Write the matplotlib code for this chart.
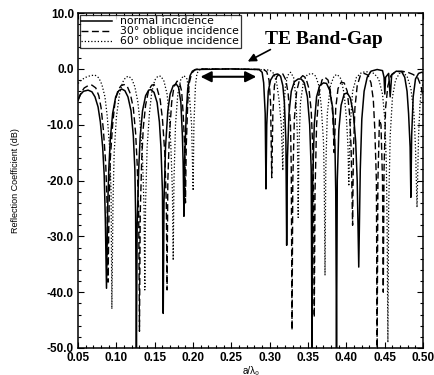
import numpy as np
import matplotlib
matplotlib.use("Agg")
import matplotlib.pyplot as plt
from matplotlib.ticker import MultipleLocator, FormatStrFormatter

# ---- data: (a/lambda0, reflection dB) ----
normal_x = [0.050, 0.053, 0.057, 0.063, 0.068, 0.072, 0.076, 0.079, 0.082, 0.084, 0.0855, 0.087,
            0.0885, 0.090, 0.092, 0.095, 0.099, 0.103, 0.107, 0.111, 0.115, 0.119, 0.122, 0.124, 0.125, 0.126,
            0.127, 0.129, 0.131, 0.134, 0.138, 0.142, 0.145, 0.149, 0.153, 0.156, 0.158, 0.160, 0.161,
            0.162, 0.164, 0.167, 0.170, 0.174, 0.178, 0.181, 0.184, 0.186, 0.187, 0.188,
            0.189, 0.191, 0.193, 0.196, 0.199, 0.203, 0.250, 0.286, 0.290, 0.292, 0.294, 0.295,
            0.296, 0.298, 0.301, 0.305, 0.310, 0.314, 0.317, 0.319, 0.321, 0.322,
            0.323, 0.325, 0.328, 0.332, 0.337, 0.341, 0.345, 0.349, 0.352, 0.354, 0.355,
            0.356, 0.358, 0.361, 0.365, 0.370, 0.374, 0.378, 0.382, 0.385, 0.386, 0.387,
            0.388, 0.390, 0.393, 0.397, 0.401, 0.405, 0.409, 0.412, 0.414, 0.416,
            0.418, 0.420, 0.423, 0.427, 0.432, 0.440, 0.447, 0.449, 0.450, 0.451, 0.455, 0.457, 0.459,
            0.465, 0.472, 0.476, 0.479, 0.481, 0.483, 0.484,
            0.485, 0.487, 0.490, 0.494, 0.498, 0.500]
normal_y = [-5.6, -4.6, -4.0, -3.8, -4.1, -5.0, -6.8, -9.5, -14, -19, -27, -39.3,
            -25, -18, -12.5, -8.0, -5.0, -3.9, -3.6, -3.9, -5.0, -7.5, -12, -18, -26, -50,
            -28, -18, -12, -7.5, -4.8, -3.8, -3.7, -4.2, -6.0, -9.5, -14, -22, -43.8,
            -24, -14, -7.5, -4.5, -3.0, -2.7, -3.3, -6, -12, -17, -26.4,
            -16, -8, -3.5, -1.2, -0.4, -0.1, 0.0, -0.1, -0.6, -2.5, -8, -21.5,
            -10, -4, -2, -1.1, -0.9, -1.3, -3, -6, -13, -31.6,
            -16, -8, -4, -2.3, -1.8, -1.8, -2.5, -5, -10, -18, -50,
            -20, -10, -5, -3, -2.5, -2.6, -3.8, -7, -14, -22, -50,
            -20, -11, -6.5, -4.5, -4.3, -5.2, -8, -13, -20, -35.5,
            -18, -9, -4, -1.5, -0.4, -0.1, -0.3, -1.5, -4.5, -1.5, -0.8, -5, -1.0,
            -0.4, -0.5, -1.5, -4, -8, -14, -23,
            -12, -5, -1.8, -0.8, -0.6, -0.7]

obl30_x = [0.050, 0.054, 0.058, 0.063, 0.068, 0.073, 0.077, 0.080, 0.083, 0.086, 0.088, 0.089,
           0.0905, 0.092, 0.095, 0.098, 0.102, 0.106, 0.110, 0.114, 0.118, 0.122, 0.125, 0.127, 0.129, 0.130,
           0.131, 0.133, 0.135, 0.138, 0.142, 0.146, 0.149, 0.153, 0.157, 0.160, 0.163, 0.165, 0.166,
           0.167, 0.169, 0.172, 0.175, 0.179, 0.182, 0.185, 0.187, 0.189, 0.190,
           0.191, 0.193, 0.195, 0.198, 0.202, 0.206, 0.250, 0.292, 0.296, 0.299, 0.301, 0.3025,
           0.304, 0.306, 0.309, 0.313, 0.317, 0.321, 0.324, 0.327, 0.328, 0.329,
           0.330, 0.332, 0.335, 0.339, 0.343, 0.347, 0.351, 0.354, 0.356, 0.357, 0.358,
           0.359, 0.361, 0.364, 0.368, 0.372, 0.376, 0.379, 0.382, 0.384,
           0.386, 0.389, 0.393, 0.397, 0.401, 0.404, 0.406, 0.408,
           0.409, 0.411, 0.414, 0.418, 0.423, 0.428, 0.432, 0.435, 0.437, 0.439, 0.440,
           0.441, 0.443, 0.445, 0.447, 0.448,
           0.449, 0.451, 0.454, 0.458, 0.464, 0.472, 0.480, 0.487, 0.493, 0.497, 0.500]
obl30_y = [-5.5, -4.2, -3.4, -3.0, -2.9, -3.4, -4.8, -7, -11, -17, -25, -38.2,
           -24, -16, -10, -6, -3.8, -3.0, -2.8, -3.1, -4.4, -7, -11.5, -17, -26, -47,
           -26, -16, -10.5, -6.5, -3.8, -2.9, -2.8, -3.5, -5.5, -9, -15, -24, -39.6,
           -20, -12, -6, -3.2, -2.2, -2.3, -4, -8, -14, -24,
           -14, -6, -2.5, -0.8, -0.2, 0.0, 0.0, -0.1, -0.5, -2, -6, -19.5,
           -8, -3, -1.4, -0.8, -0.9, -2, -4.5, -10, -18, -46.8,
           -20, -9, -4, -1.8, -1.2, -1.6, -3.5, -7.5, -14, -22, -44.5,
           -22, -10, -4.5, -2.0, -1.5, -2.0, -4, -8, -15,
           -7, -3.5, -2.4, -2.5, -4, -8, -14, -28,
           -15, -7, -3, -1.2, -0.8, -1.1, -2.5, -5.5, -11, -20, -50,
           -20, -9, -10, -20, -40,
           -18, -7, -3, -1.2, -0.5, -0.4, -0.6, -1.0, -1.6, -3, -5]

obl60_x = [0.050, 0.055, 0.060, 0.066, 0.072, 0.077, 0.081, 0.085, 0.088, 0.091, 0.093, 0.094,
           0.0955, 0.097, 0.100, 0.104, 0.108, 0.112, 0.116, 0.120, 0.124, 0.128, 0.131, 0.134, 0.136, 0.137,
           0.138, 0.140, 0.143, 0.146, 0.150, 0.154, 0.158, 0.162, 0.166, 0.169, 0.171, 0.173, 0.174,
           0.175, 0.177, 0.180, 0.184, 0.188, 0.192, 0.195, 0.198, 0.200,
           0.201, 0.203, 0.205, 0.208, 0.212, 0.260, 0.300, 0.305, 0.309, 0.312, 0.315, 0.317,
           0.318, 0.320, 0.323, 0.327, 0.331, 0.334, 0.336, 0.337,
           0.338, 0.340, 0.344, 0.349, 0.355, 0.360, 0.364, 0.367, 0.370, 0.371, 0.372,
           0.373, 0.375, 0.379, 0.384, 0.388, 0.393, 0.397, 0.400, 0.402, 0.403,
           0.405, 0.408, 0.413, 0.420, 0.428, 0.436, 0.442, 0.447, 0.450, 0.452, 0.453, 0.454,
           0.455, 0.457, 0.460, 0.464, 0.469, 0.474, 0.479, 0.484, 0.488, 0.490, 0.492,
           0.494, 0.496, 0.498, 0.500]
obl60_y = [-2.6, -1.9, -1.5, -1.2, -1.1, -1.6, -2.8, -5, -8.5, -14, -22, -43,
           -24, -15, -8.5, -4.5, -2.4, -1.5, -1.3, -1.8, -3.2, -6, -10, -16, -25, -39.6,
           -24, -14, -8, -4.2, -2.0, -1.3, -1.3, -2.2, -4.5, -8.5, -14, -22, -34.3,
           -20, -10, -4.5, -1.8, -1.2, -1.8, -4.5, -10, -21.8,
           -10, -3, -0.8, -0.2, 0.0, 0.0, -0.2, -0.8, -2.5, -5.5, -10, -18.2,
           -9, -3.5, -1.2, -0.6, -1.5, -5, -12, -26.6,
           -14, -6, -2.2, -1.0, -0.8, -1.3, -3, -6.5, -13, -20, -37,
           -18, -8, -3, -1.2, -1.0, -1.8, -4.5, -9, -14, -21,
           -10, -4, -1.5, -0.6, -0.5, -0.8, -1.8, -4.5, -9, -17, -28, -49,
           -25, -12, -5, -2, -0.8, -0.7, -1.3, -3.5, -8, -14, -24.8,
           -12, -6, -3.5, -2.5]

labels = ["normal incidence", "30\u00b0 oblique incidence", "60\u00b0 oblique incidence"]

# ---- figure ----
plt.rcParams['font.family'] = ['Liberation Sans', 'DejaVu Sans']
fig = plt.figure(figsize=(4.34, 3.75), dpi=100)
ax = fig.add_axes([0.180, 0.072, 0.795, 0.893])

ax.plot(normal_x, normal_y, color='black', lw=1.1, ls='-', label=labels[0])
ax.plot(obl30_x, obl30_y, color='black', lw=1.0, ls=(0, (5, 2.5)), label=labels[1])
ax.plot(obl60_x, obl60_y, color='black', lw=0.9, ls=(0, (1, 1.6)), label=labels[2])

ax.set_xlim(0.05, 0.50)
ax.set_ylim(-50, 10)
ax.xaxis.set_major_locator(MultipleLocator(0.05))
ax.xaxis.set_minor_locator(MultipleLocator(0.01))
ax.yaxis.set_major_locator(MultipleLocator(10))
ax.yaxis.set_minor_locator(MultipleLocator(2))
ax.xaxis.set_major_formatter(FormatStrFormatter('%.2f'))
ax.yaxis.set_major_formatter(FormatStrFormatter('%.1f'))
ax.tick_params(which='both', direction='in', top=True, right=True, width=0.8)
ax.tick_params(which='major', length=4, labelsize=8.5, pad=3)
ax.tick_params(which='minor', length=2)
for lab in ax.get_xticklabels() + ax.get_yticklabels():
    lab.set_fontweight('bold')
for s in ax.spines.values():
    s.set_linewidth(1.1)

ax.set_ylabel("Reflection Coefficient (dB)", fontsize=6.5, labelpad=19)
ax.set_xlabel("a/\u03bb\u2080", fontsize=7, labelpad=1)

leg = ax.legend(loc='upper left', prop={'family': 'DejaVu Sans', 'size': 7.8},
                handlelength=2.8, handletextpad=0.8,
                borderpad=0.15, labelspacing=0.0, fancybox=False, frameon=True,
                borderaxespad=0.15)
leg.get_frame().set_edgecolor('black')
leg.get_frame().set_linewidth(0.9)

# ---- annotations ----
ax.text(0.294, 4.5, "TE Band-Gap", fontsize=14, fontweight='bold',
        family=['Liberation Serif', 'DejaVu Serif'], ha='left', va='baseline')
ax.annotate("", xy=(0.268, 1.1), xytext=(0.304, 3.7),
            arrowprops=dict(arrowstyle='-|>', color='black', lw=1.2, mutation_scale=12))
ax.annotate("", xy=(0.206, -1.4), xytext=(0.286, -1.4),
            arrowprops=dict(arrowstyle='<|-|>', color='black', lw=1.5, mutation_scale=16))

fig.savefig('out.png', dpi=100)
